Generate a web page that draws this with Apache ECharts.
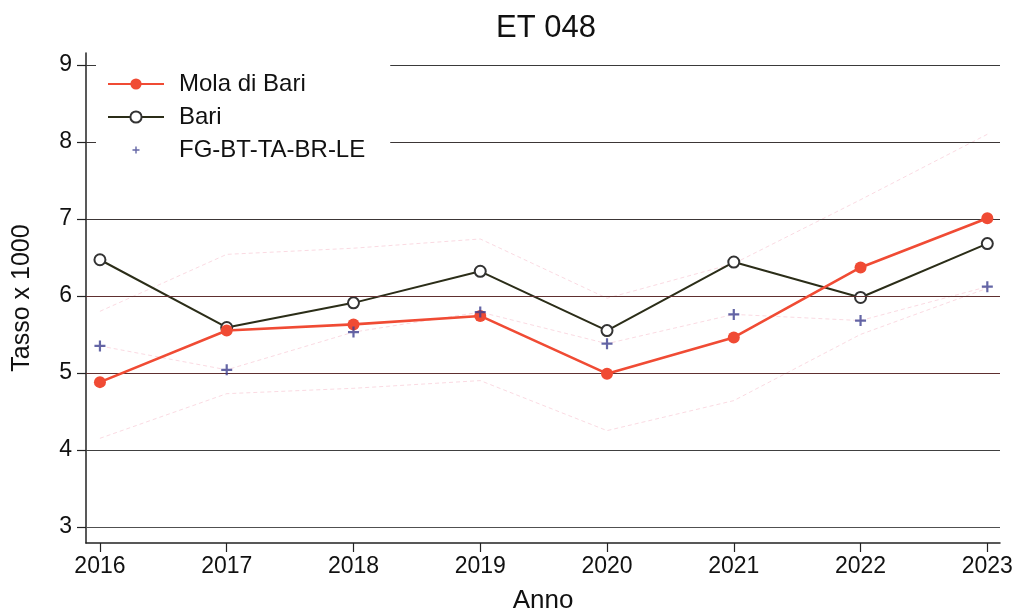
<!DOCTYPE html>
<html>
<head>
<meta charset="utf-8">
<script src="https://cdn.jsdelivr.net/npm/echarts@6/dist/echarts.min.js"></script>
<style>
html,body{margin:0;padding:0;background:#fff;}
#chart{width:1014px;height:613px;}
</style>
</head>
<body>
<div id="chart"></div>
<script>
var years = [2016, 2017, 2018, 2019, 2020, 2021, 2022, 2023];
var yTicks = [3, 4, 5, 6, 7, 8, 9];
var mola = [4.88, 5.55, 5.63, 5.74, 4.99, 5.46, 6.37, 7.01];
var bari = [6.47, 5.59, 5.91, 6.32, 5.55, 6.44, 5.98, 6.68];
var fg = [5.35, 5.04, 5.53, 5.79, 5.38, 5.76, 5.68, 6.12];
var molaUpper = [5.80, 6.54, 6.62, 6.74, 5.97, 6.42, 7.25, 8.10];
var molaLower = [4.15, 4.73, 4.80, 4.90, 4.25, 4.64, 5.50, 6.10];

function pairs(vals) { return years.map(function (y, i) { return [y, vals[i]]; }); }

var gridColors = {3: '#505050', 4: '#404040', 5: '#5e2f2f', 6: '#5e2f2f', 7: '#3c3636', 8: '#3c3636', 9: '#3a3a3a'};
var plusPath = 'path://M4,0 H6 V4 H10 V6 H6 V10 H4 V6 H0 V4 H4 Z';
var plusLegend = 'path://M-5,-5 L-5,-4.99 M15,15 L15,14.99 M4,0 H6 V4 H10 V6 H6 V10 H4 V6 H0 V4 H4 Z';
var FONT = '"Liberation Sans", Arial, sans-serif';
var faint = { color: 'rgba(240,140,165,0.32)', width: 1, type: [4, 3] };

var chart = echarts.init(document.getElementById('chart'), null, { renderer: 'canvas' });
chart.setOption({
  animation: false,
  backgroundColor: '#fff',
  textStyle: { fontFamily: FONT },
  title: {
    text: 'ET 048', left: 491, top: 8,
    textStyle: { fontSize: 31, fontWeight: 'normal', color: '#111', fontFamily: FONT }
  },
  grid: { left: 86, right: 14, top: 53, bottom: 70, outerBoundsMode: 'none', containLabel: false },
  legend: {
    orient: 'vertical', left: 96, top: 57, z: 20,
    padding: [15, 25, 15, 11],
    backgroundColor: '#fff',
    itemWidth: 56, itemHeight: 14, itemGap: 9,
    textStyle: { fontSize: 24, lineHeight: 22, color: '#111', fontFamily: FONT, padding: [0, 0, 0, 10] },
    data: [
      { name: 'Mola di Bari' },
      { name: 'Bari' },
      { name: 'FG-BT-TA-BR-LE', icon: plusLegend }
    ]
  },
  xAxis: {
    type: 'value', min: 2015.89, max: 2023.10,
    name: 'Anno', nameLocation: 'middle', nameGap: 45,
    nameTextStyle: { fontSize: 26, color: '#111', fontFamily: FONT },
    axisLine: { show: true, lineStyle: { color: '#222', width: 1.5 } },
    axisTick: { show: true, length: 9, customValues: years, lineStyle: { color: '#222', width: 1.2 } },
    axisLabel: { customValues: years, fontSize: 23, color: '#111', margin: 12, fontFamily: FONT,
      formatter: function (v) { return String(v); } },
    splitLine: { show: false }
  },
  yAxis: {
    type: 'value', min: 2.79, max: 9.156,
    name: 'Tasso x 1000', nameLocation: 'middle', nameGap: 51,
    nameTextStyle: { fontSize: 25, color: '#111', fontFamily: FONT },
    axisLine: { show: true, lineStyle: { color: '#222', width: 1.5 } },
    axisTick: { show: true, length: 9, customValues: yTicks, lineStyle: { color: '#222', width: 1.2 } },
    axisLabel: { customValues: yTicks, fontSize: 23, color: '#111', margin: 14, fontFamily: FONT },
    splitLine: { show: false }
  },
  series: [
    {
      name: 'grid', type: 'line', data: [], z: 1, silent: true,
      markLine: {
        silent: true, symbol: 'none', label: { show: false }, animation: false,
        data: yTicks.map(function (v) {
          return { yAxis: v, lineStyle: { color: gridColors[v], width: 1.2, type: 'solid' } };
        })
      }
    },
    { name: 'upper', type: 'line', data: pairs(molaUpper), symbol: 'none', lineStyle: faint, z: 2, silent: true },
    { name: 'lower', type: 'line', data: pairs(molaLower), symbol: 'none', lineStyle: faint, z: 2, silent: true },
    { name: 'fgline', type: 'line', data: pairs(fg), symbol: 'none', lineStyle: faint, z: 2, silent: true },
    {
      name: 'Bari', type: 'line', data: pairs(bari), z: 4,
      symbol: 'emptyCircle', symbolSize: 11,
      lineStyle: { color: '#2b2d18', width: 2 },
      itemStyle: { color: '#333', borderColor: '#333', borderWidth: 1.6 }
    },
    {
      name: 'Mola di Bari', type: 'line', data: pairs(mola), z: 5,
      symbol: 'circle', symbolSize: 12,
      lineStyle: { color: '#f04b34', width: 2.6 },
      itemStyle: { color: '#f04b34' }
    },
    {
      name: 'FG-BT-TA-BR-LE', type: 'scatter', data: pairs(fg), z: 6,
      symbol: plusPath, symbolSize: 11, symbolKeepAspect: true,
      itemStyle: { color: '#3d4090' }
    }
  ]
});
</script>
</body>
</html>
